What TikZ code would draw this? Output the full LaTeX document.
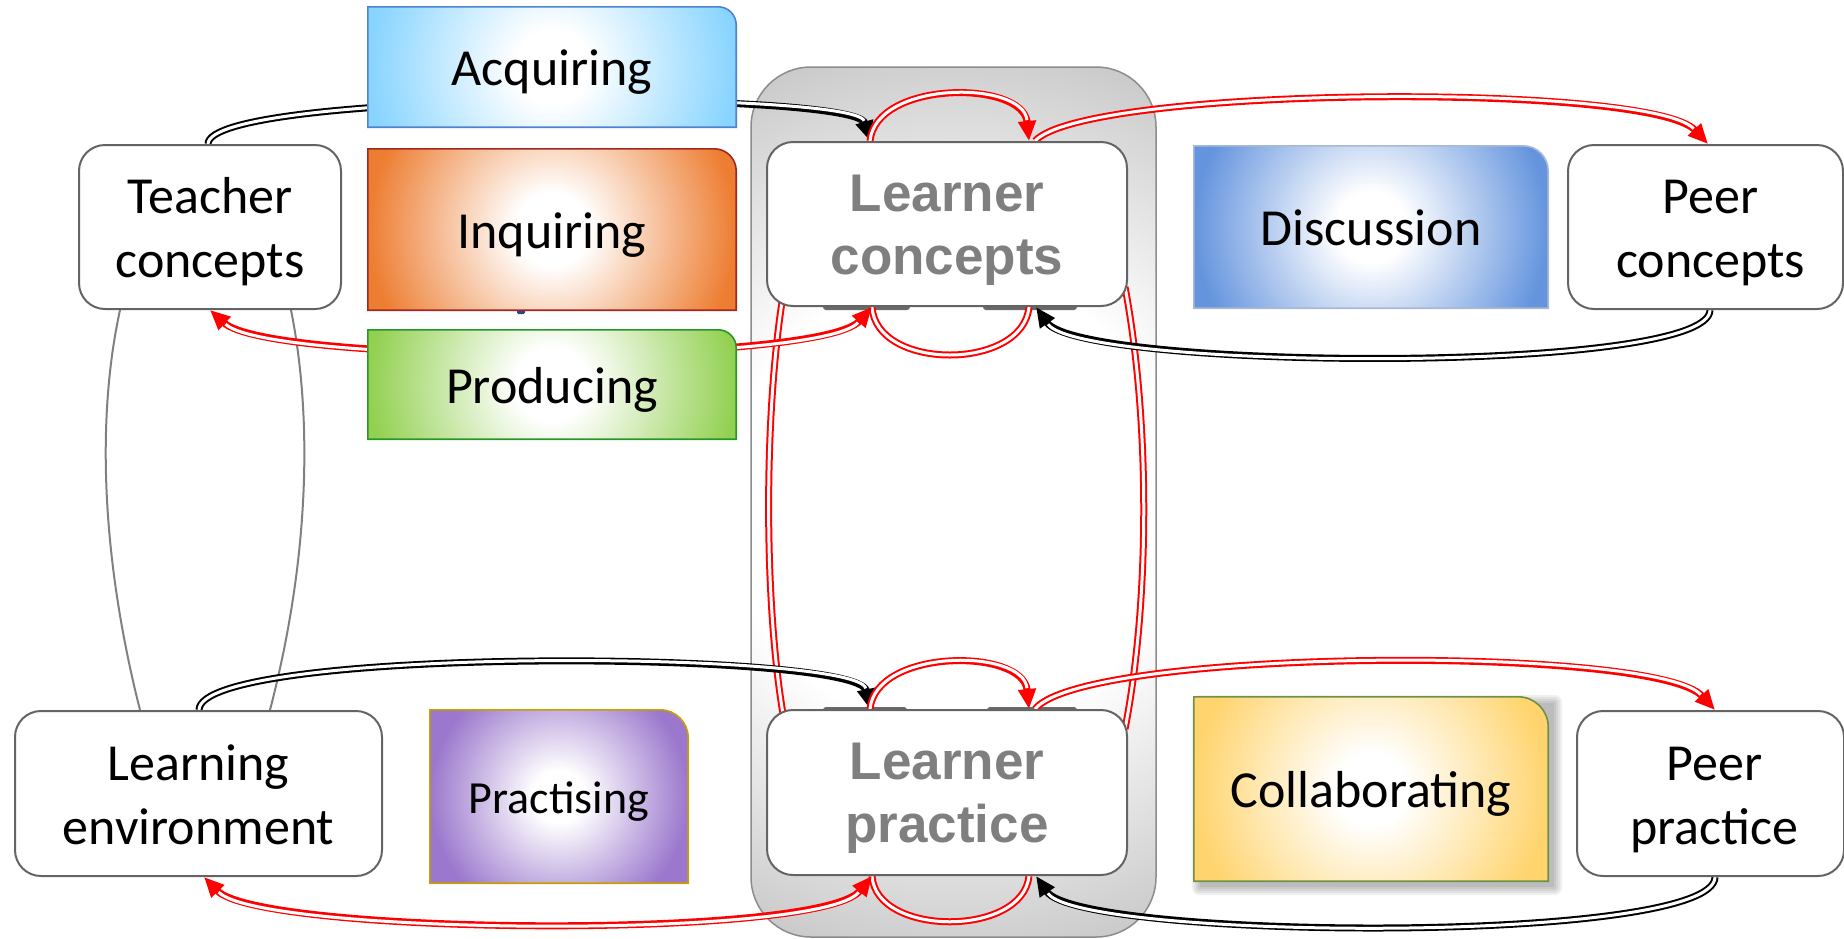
\documentclass[tikz,border=0pt]{standalone}
\usepackage{fontspec}
\setmainfont{Carlito}
\newfontfamily\lsans{Liberation Sans}
\usetikzlibrary{arrows.meta,calc}

\definecolor{boxborder}{RGB}{100,100,100}
\definecolor{lgray}{RGB}{127,127,127}
\definecolor{lred}{RGB}{255,0,0}
\definecolor{acqC}{RGB}{135,212,255}
\definecolor{acqB}{RGB}{80,130,210}
\definecolor{inqC}{RGB}{237,125,49}
\definecolor{inqB}{RGB}{160,40,30}
\definecolor{prodC}{RGB}{146,208,80}
\definecolor{prodB}{RGB}{40,150,40}
\definecolor{discC}{RGB}{100,148,222}
\definecolor{discB}{RGB}{170,185,210}
\definecolor{pracC}{RGB}{155,120,205}
\definecolor{pracB}{RGB}{200,160,0}
\definecolor{collC}{RGB}{255,212,110}
\definecolor{collB}{RGB}{110,145,70}
\definecolor{contC}{RGB}{192,192,192}
\definecolor{contB}{RGB}{140,140,140}
\definecolor{linegray}{RGB}{128,128,128}
\definecolor{barc}{RGB}{105,105,105}
\definecolor{markblue}{RGB}{40,70,140}

\pgfdeclareradialshading{acqsh}{\pgfpoint{0bp}{0bp}}{color(0bp)=(white); color(2.5bp)=(white); color(12.5bp)=(acqC); color(50bp)=(acqC)}
\pgfdeclareradialshading{inqsh}{\pgfpoint{0bp}{0bp}}{color(0bp)=(white); color(2.5bp)=(white); color(12.5bp)=(inqC); color(50bp)=(inqC)}
\pgfdeclareradialshading{prodsh}{\pgfpoint{0bp}{0bp}}{color(0bp)=(white); color(2.5bp)=(white); color(12.5bp)=(prodC); color(50bp)=(prodC)}
\pgfdeclareradialshading{discsh}{\pgfpoint{0bp}{0bp}}{color(0bp)=(white); color(2.5bp)=(white); color(12.5bp)=(discC); color(50bp)=(discC)}
\pgfdeclareradialshading{pracsh}{\pgfpoint{0bp}{0bp}}{color(0bp)=(white); color(2.5bp)=(white); color(12.5bp)=(pracC); color(50bp)=(pracC)}
\pgfdeclareradialshading{collsh}{\pgfpoint{0bp}{0bp}}{color(0bp)=(white); color(2.5bp)=(white); color(12.5bp)=(collC); color(50bp)=(collC)}
\pgfdeclareradialshading{contsh}{\pgfpoint{0bp}{0bp}}{color(0bp)=(white); color(6bp)=(white); color(13.5bp)=(contC); color(50bp)=(contC)}

\pgfdeclarelayer{bg}
\pgfdeclarelayer{lines}
\pgfdeclarelayer{cards}
\pgfsetlayers{bg,lines,cards,main}

\newcommand\cardpath[2]{(#1.south west) -- (#1.north west) -- ($(#1.north east)+(-#2,0)$) .. controls ($(#1.north east)+(-0.448*#2,0)$) and ($(#1.north east)+(0,0.448*#2)$) .. ($(#1.north east)+(0,#2)$) -- (#1.south east) -- cycle}
\newcommand\cardshape[5]{%
  \begin{scope}
    \clip \cardpath{#1}{#2};
    \shade[shading=#3] (#1.center) circle (#5);
  \end{scope}
  \draw[line width=1.6pt, draw=#4] \cardpath{#1}{#2};
}
% text lowered visually, box size kept
\newcommand\tx[1]{\raisebox{-6pt}[\height][\depth]{\begin{tabular}{@{}c@{}}#1\end{tabular}}}

\tikzset{
  wbox/.style={draw=boxborder, fill=white, line width=2pt, rounded corners=26pt,
    inner sep=0pt, font=\fontsize{52pt}{64pt}\selectfont},
  lbox/.style={wbox, text=lgray, font=\lsans\bfseries\fontsize{53pt}{63pt}\selectfont},
  card/.style={inner sep=0pt, font=\fontsize{52pt}{64pt}\selectfont},
  conn/.style={line width=7pt, line cap=butt},
  innerw/.style={draw=white, line width=3pt, arrows=-},
  tip/.tip={Triangle[length=20pt,width=17pt]},
  redline/.style={conn, draw=lred, postaction={innerw}},
  redarr/.style={conn, draw=lred, -tip, postaction={innerw, shorten >=21pt}},
  redarrs/.style={conn, draw=lred, tip-tip, postaction={innerw, shorten >=21pt, shorten <=21pt}},
  blkarr/.style={conn, draw=black, -tip, postaction={innerw, shorten >=21pt}},
  thin/.style={draw=linegray, line width=2pt},
}

\begin{document}
\begin{tikzpicture}[x=1pt,y=-1pt]
\useasboundingbox (0,0) rectangle (1844,938);

% container
\begin{pgfonlayer}{bg}
\node[draw=contB, line width=1.5pt, rounded corners=60pt, minimum width=405pt,
  minimum height=870pt, inner sep=0pt,
  path picture={\shade[shading=contsh] (path picture bounding box.center) circle (940pt);}]
  (cont) at (953.5,502) {};
\end{pgfonlayer}

% white boxes
\node[wbox, minimum width=262pt, minimum height=164pt] (tc) at (210,227) {\tx{Teacher\\concepts}};
\node[wbox, minimum width=367pt, minimum height=165pt] (le) at (198.5,793.5) {\tx{Learning\\environment}};
\node[lbox, minimum width=360pt, minimum height=164pt] (lc) at (947,224) {\tx{Learner\\concepts}};
\node[lbox, minimum width=360pt, minimum height=165pt] (lp) at (947,792.5) {\tx{Learner\\practice}};
\node[wbox, minimum width=275pt, minimum height=164pt] (pc) at (1705.5,227) {\hspace*{10pt}\tx{Peer\\concepts}};
\node[wbox, minimum width=267pt, minimum height=165pt] (pp) at (1710.5,793.5) {\hspace*{8pt}\tx{Peer\\practice}};

% cards (text)
\node[card, minimum width=368pt, minimum height=120pt] (acq) at (552,67) {\tx{Acquiring}};
\node[card, minimum width=368pt, minimum height=161pt] (inq) at (552,229.5) {\tx{Inquiring}};
\node[card, minimum width=368pt, minimum height=109pt] (prod) at (552,384.5) {\tx{Producing}};
\node[card, minimum width=354pt, minimum height=162pt] (disc) at (1371,227) {\tx{Discussion}};
\node[card, minimum width=258pt, minimum height=173pt, font=\fontsize{46pt}{56pt}\selectfont] (prac) at (559,796.5) {\tx{Practising}};
\node[card, minimum width=354pt, minimum height=184pt] (coll) at (1371,789) {\tx{Collaborating}};

% card shapes
\begin{pgfonlayer}{cards}
\foreach \r in {0,2,4,6,8}{
  \fill[black, opacity=0.06, rounded corners=\r pt] ($(coll.north west)+(6-\r,6-\r)$) rectangle ($(coll.south east)+(6+\r,6+\r)$);
}
\cardshape{acq}{18}{acqsh}{acqB}{368pt}
\cardshape{inq}{22}{inqsh}{inqB}{368pt}
\cardshape{prod}{18}{prodsh}{prodB}{368pt}
\cardshape{disc}{25}{discsh}{discB}{354pt}
\cardshape{prac}{28}{pracsh}{pracB}{258pt}
\cardshape{coll}{30}{collsh}{collB}{354pt}
\end{pgfonlayer}

% connectors
\begin{pgfonlayer}{lines}
% hidden bits peeking out
\fill[barc, rounded corners=3pt] (823,296) rectangle (910,310);
\fill[barc, rounded corners=3pt] (983,296) rectangle (1077,310);
\fill[barc, rounded corners=3pt] (823,707) rectangle (907,722);
\fill[barc, rounded corners=3pt] (987,707) rectangle (1077,722);
\fill[markblue, rounded corners=1.5pt] (517,300) rectangle (525,314);

% vertical red links between learner boxes
\draw[redline] ([shift={(16,-5)}]lc.south west) .. controls (764,420) and (764,600) .. ([shift={(17,5)}]lp.north west);
\draw[redline] ([shift={(-3,-20)}]lc.south east) .. controls (1150,420) and (1150,600) .. ([shift={(-3,20)}]lp.north east);

% gray links
\draw[thin] ([xshift=42pt]tc.south west) .. controls (96,420) and (102,560) .. ([xshift=126pt]le.north west);
\draw[thin] ([xshift=-51pt]tc.south east) .. controls (313,420) and (309,560) .. ([xshift=-113pt]le.north east);

% concepts row
\draw[blkarr] ([xshift=-2pt]tc.north) .. controls (208,90) and (855,90) .. ([xshift=-77pt]lc.north);
\draw[redarr] ([xshift=-77pt]lc.north) .. controls (876,80) and (1023,80) .. ([xshift=82pt]lc.north);
\draw[redarr] ([xshift=88pt]lc.north) .. controls (1085,86) and (1650,82) .. ([xshift=2.5pt]pc.north);
\draw[blkarr] ([xshift=4.5pt]pc.south) .. controls (1710,375) and (1080,370) .. ([xshift=89pt]lc.south);
\draw[redline] ([xshift=82pt]lc.south) .. controls (1023,371) and (876,371) .. ([xshift=-75pt]lc.south);
\draw[redarrs] ([xshift=-75pt]lc.south) .. controls (820,365) and (270,365) .. (tc.south);

% practice row
\draw[blkarr] ([xshift=0.5pt]le.north) .. controls (199,646) and (858,650) .. ([xshift=-77pt]lp.north);
\draw[redarr] ([xshift=-77pt]lp.north) .. controls (876,648) and (1023,648) .. ([xshift=82pt]lp.north);
\draw[redarr] ([xshift=88pt]lp.north) .. controls (1085,648) and (1655,645) .. ([xshift=4.5pt]pp.north);
\draw[blkarr] ([xshift=4.5pt]pp.south) .. controls (1715,945) and (1080,940) .. ([xshift=89pt]lp.south);
\draw[redline] ([xshift=82pt]lp.south) .. controls (1023,937) and (876,937) .. ([xshift=-75pt]lp.south);
\draw[redarrs] ([xshift=-75pt]lp.south) .. controls (820,940) and (260,935) .. ([xshift=5.5pt]le.south);
\end{pgfonlayer}

\end{tikzpicture}
\end{document}
